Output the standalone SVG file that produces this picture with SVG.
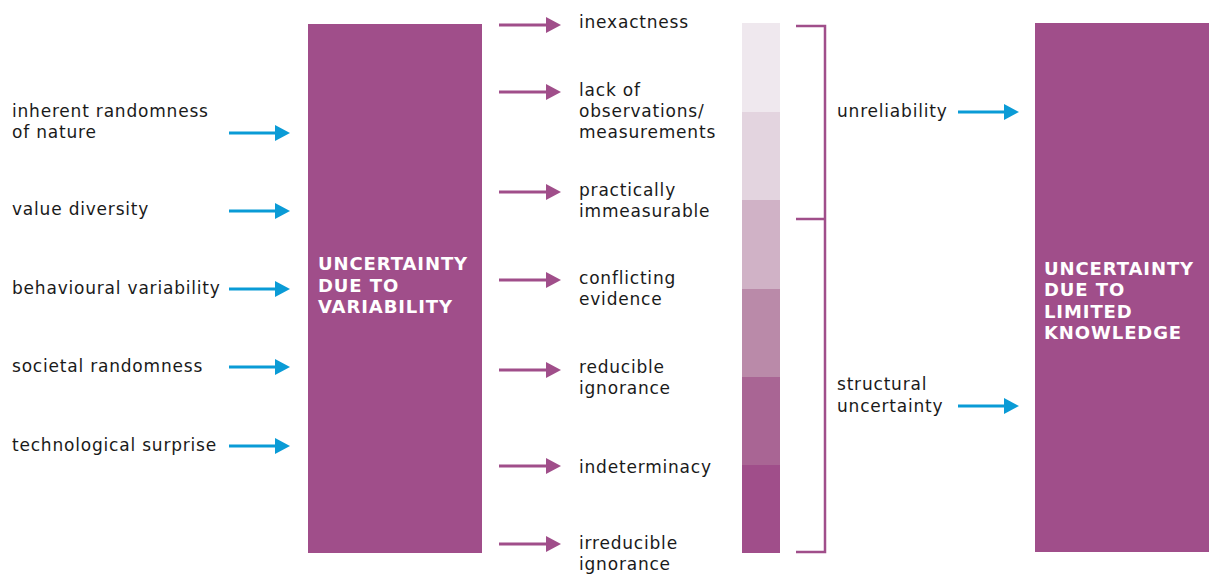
<svg xmlns="http://www.w3.org/2000/svg" width="1211" height="574" viewBox="0 0 1211 574">
<style>
.t{font-family:"DejaVu Sans","Liberation Sans",sans-serif;font-size:17px;letter-spacing:0.8px;fill:#1a1a1a}
.b{font-family:"DejaVu Sans","Liberation Sans",sans-serif;font-size:18px;font-weight:bold;letter-spacing:0.9px;fill:#ffffff}
.box{fill:#A04E8A}
.ab{stroke:#0A9BD6;stroke-width:3;fill:none}
.ap{stroke:#A04E8A;stroke-width:3;fill:none}
.hb{fill:#0A9BD6}
.hp{fill:#A04E8A}
.br{stroke:#A04E8A;stroke-width:2.5;fill:none}
</style>
<rect width="1211" height="574" fill="#ffffff"/>
<g id="box-variability">
<rect class="box" x="308" y="24" width="174" height="529"/>
<text class="b" x="318" y="270">UNCERTAINTY</text>
<text class="b" x="318" y="292">DUE TO</text>
<text class="b" x="318" y="313">VARIABILITY</text>
</g>
<g id="box-knowledge">
<rect class="box" x="1035" y="23" width="174" height="529"/>
<text class="b" x="1044" y="275">UNCERTAINTY</text>
<text class="b" x="1044" y="296">DUE TO</text>
<text class="b" x="1044" y="318">LIMITED</text>
<text class="b" x="1044" y="339">KNOWLEDGE</text>
</g>
<g id="left-labels">
<text class="t" x="12" y="117">inherent randomness</text>
<text class="t" x="12" y="138">of nature</text>
<text class="t" x="12" y="215">value diversity</text>
<text class="t" x="12" y="294">behavioural variability</text>
<text class="t" x="12" y="372">societal randomness</text>
<text class="t" x="12" y="451">technological surprise</text>
</g>
<g id="middle-labels">
<text class="t" x="579" y="28">inexactness</text>
<text class="t" x="579" y="96">lack of</text>
<text class="t" x="579" y="117">observations/</text>
<text class="t" x="579" y="138">measurements</text>
<text class="t" x="579" y="196">practically</text>
<text class="t" x="579" y="217">immeasurable</text>
<text class="t" x="579" y="284">conflicting</text>
<text class="t" x="579" y="305">evidence</text>
<text class="t" x="579" y="373">reducible</text>
<text class="t" x="579" y="394">ignorance</text>
<text class="t" x="579" y="473">indeterminacy</text>
<text class="t" x="579" y="549">irreducible</text>
<text class="t" x="579" y="570">ignorance</text>
</g>
<g id="scale-bar">
<rect x="742" y="23" width="38" height="89" fill="#EFE8EE"/>
<rect x="742" y="112" width="38" height="88" fill="#E3D4DF"/>
<rect x="742" y="200" width="38" height="89" fill="#D0B2C6"/>
<rect x="742" y="289" width="38" height="88" fill="#BA8AA9"/>
<rect x="742" y="377" width="38" height="88" fill="#A96594"/>
<rect x="742" y="465" width="38" height="88" fill="#A04E8A"/>
</g>
<g id="right-labels">
<text class="t" x="837" y="117">unreliability</text>
<text class="t" x="837" y="390">structural</text>
<text class="t" x="837" y="412">uncertainty</text>
</g>
<g id="connectors">
<path class="br" d="M796 26 H825 V552 H796 M796 219 H825"/>
<g>
<path class="ab" d="M229 133 H276"/><path class="hb" d="M275 125 L290 133 L275 141 Z"/>
<path class="ab" d="M229 211 H276"/><path class="hb" d="M275 203 L290 211 L275 219 Z"/>
<path class="ab" d="M229 289 H276"/><path class="hb" d="M275 281 L290 289 L275 297 Z"/>
<path class="ab" d="M229 367 H276"/><path class="hb" d="M275 359 L290 367 L275 375 Z"/>
<path class="ab" d="M229 446 H276"/><path class="hb" d="M275 438 L290 446 L275 454 Z"/>
<path class="ab" d="M958 112 H1005"/><path class="hb" d="M1004 104 L1019 112 L1004 120 Z"/>
<path class="ab" d="M958 406 H1005"/><path class="hb" d="M1004 398 L1019 406 L1004 414 Z"/>
</g>
<g>
<path class="ap" d="M499 25 H547"/><path class="hp" d="M546 17 L561 25 L546 33 Z"/>
<path class="ap" d="M499 92 H547"/><path class="hp" d="M546 84 L561 92 L546 100 Z"/>
<path class="ap" d="M499 192 H547"/><path class="hp" d="M546 184 L561 192 L546 200 Z"/>
<path class="ap" d="M499 280 H547"/><path class="hp" d="M546 272 L561 280 L546 288 Z"/>
<path class="ap" d="M499 370 H547"/><path class="hp" d="M546 362 L561 370 L546 378 Z"/>
<path class="ap" d="M499 466 H547"/><path class="hp" d="M546 458 L561 466 L546 474 Z"/>
<path class="ap" d="M499 544 H547"/><path class="hp" d="M546 536 L561 544 L546 552 Z"/>
</g>
</g>
</svg>
